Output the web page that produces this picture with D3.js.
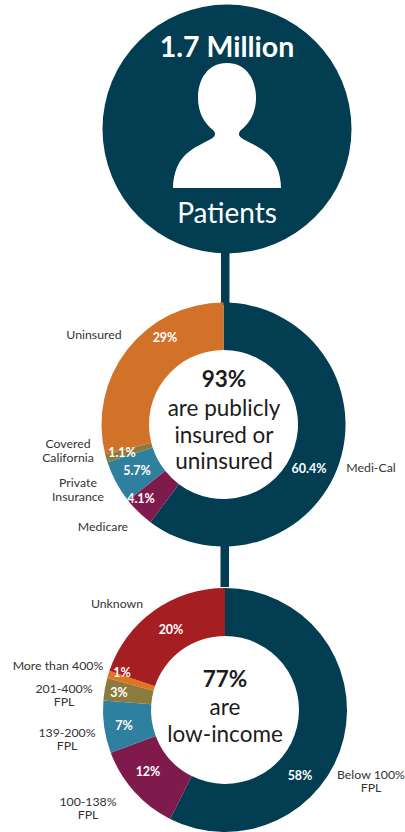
<!DOCTYPE html>
<html>
<head>
<meta charset="utf-8">
<script src="https://cdn.jsdelivr.net/npm/d3@7/dist/d3.min.js"></script>
<style>
  html, body { margin: 0; padding: 0; background: #fff; }
  svg { display: block; }
  text { font-family: Lato, "Open Sans", sans-serif; text-anchor: middle; dominant-baseline: central; }
</style>
</head>
<body>
<svg id="chart" width="405" height="832"></svg>
<script>
// Patient coverage categories, clockwise from twelve o'clock
const coverageValues = [60.4, 4.1, 5.7, 1.1, 29];
const coverageShown = ["60.4%", "4.1%", "5.7%", "1.1%", "29%"];
const coverageNames = [["Medi-Cal"], ["Medicare"], ["Private", "Insurance"], ["Covered", "California"], ["Uninsured"]];

// Patient income bands, clockwise from twelve o'clock
const incomeValues = [58, 12, 7, 3, 1, 20];
const incomeShown = ["58%", "12%", "7%", "3%", "1%", "20%"];
const incomeNames = [["Below 100%", "FPL"], ["100-138%", "FPL"], ["139-200%", "FPL"], ["201-400%", "FPL"], ["More than 400%"], ["Unknown"]];

// Slice colours
const coverageColors = ["#023d52", "#7f1a4d", "#2f7f9f", "#8b7b3f", "#d17228"];
const incomeColors = ["#023d52", "#7f1a4d", "#2f7f9f", "#8b7b3f", "#e0741f", "#a51e22"];

// Label placement for each ring, in page pixels
const coverageLayout = {
  cx: 223.5, cy: 424.5, outer: 122, inner: 74.5,
  valueAt: [[309, 468], [141, 498], [137, 470], [122, 452], [165, 337]],
  nameAt: [[371, 467], [103, 526], [78, 482], [68, 443], [94, 334]],
  lineGap: 14
};
const incomeLayout = {
  cx: 225, cy: 710, outer: 122, inner: 74,
  valueAt: [[300, 775], [148, 771], [124, 725], [119, 692], [122, 672], [171, 629]],
  nameAt: [[371, 774], [88, 801], [67, 732], [64, 688], [58, 665], [117, 603]],
  lineGap: 13
};

const svg = d3.select("#chart");
const navy = "#023d52";

// Connectors run behind the circle and the rings
svg.append("rect").attr("x", 221).attr("y", 245).attr("width", 8.5).attr("height", 60).attr("fill", navy);
svg.append("rect").attr("x", 220.5).attr("y", 540).attr("width", 8.5).attr("height", 47).attr("fill", navy);

// Headline circle with the patient silhouette
svg.append("circle").attr("cx", 227).attr("cy", 129).attr("r", 124.5).attr("fill", navy);
svg.append("path").attr("fill", "#fff").attr("d",
  "M227 63 C246 63 256 79 256 98 C256 113 249 124 241 130 C238 133 238 136 243 139 " +
  "C250 143 258 146 264 151 C275 158 281 173 281 188 L173 188 C173 173 179 158 190 151 " +
  "C196 146 204 143 211 139 C216 136 216 133 213 130 C205 124 198 113 198 98 C198 79 208 63 227 63 Z");
svg.append("text").attr("x", 227).attr("y", 46).attr("fill", "#fff")
  .attr("font-size", 28.5).attr("font-weight", 700).text("1.7 Million");
svg.append("text").attr("x", 227).attr("y", 212).attr("fill", "#fff")
  .attr("font-size", 28).text("Patients");

// Draws one ring with its value labels and category names
function drawRing(values, shown, names, colors, layout) {
  const g = svg.append("g");
  const pie = d3.pie().sort(null)(values);
  const arc = d3.arc().innerRadius(layout.inner).outerRadius(layout.outer);
  g.append("g").attr("transform", `translate(${layout.cx},${layout.cy})`)
    .selectAll("path").data(pie).join("path")
    .attr("d", arc).attr("fill", (d, i) => colors[i]);
  g.selectAll("text.value").data(shown).join("text").attr("class", "value")
    .attr("x", (d, i) => layout.valueAt[i][0]).attr("y", (d, i) => layout.valueAt[i][1])
    .attr("fill", "#fff").attr("font-size", 12.5).attr("font-weight", 700).text(d => d);
  names.forEach((lines, i) => {
    lines.forEach((line, k) => {
      g.append("text").attr("class", "name")
        .attr("x", layout.nameAt[i][0]).attr("y", layout.nameAt[i][1] + k * layout.lineGap)
        .attr("fill", "#333").attr("font-size", 12.3).text(line);
    });
  });
}

drawRing(coverageValues, coverageShown, coverageNames, coverageColors, coverageLayout);
drawRing(incomeValues, incomeShown, incomeNames, incomeColors, incomeLayout);

// Captions inside the rings
const captions = [
  ["93%", 224, 378, 700], ["are publicly", 224, 407, 400], ["insured or", 224, 434, 400], ["uninsured", 224, 460, 400],
  ["77%", 225, 678, 700], ["are", 225, 706, 400], ["low-income", 225, 733, 400]
];
svg.selectAll("text.caption").data(captions).join("text").attr("class", "caption")
  .attr("x", d => d[1]).attr("y", d => d[2]).attr("font-weight", d => d[3])
  .attr("fill", "#1c1c1c").attr("font-size", 22.5).text(d => d[0]);
</script>
</body>
</html>
